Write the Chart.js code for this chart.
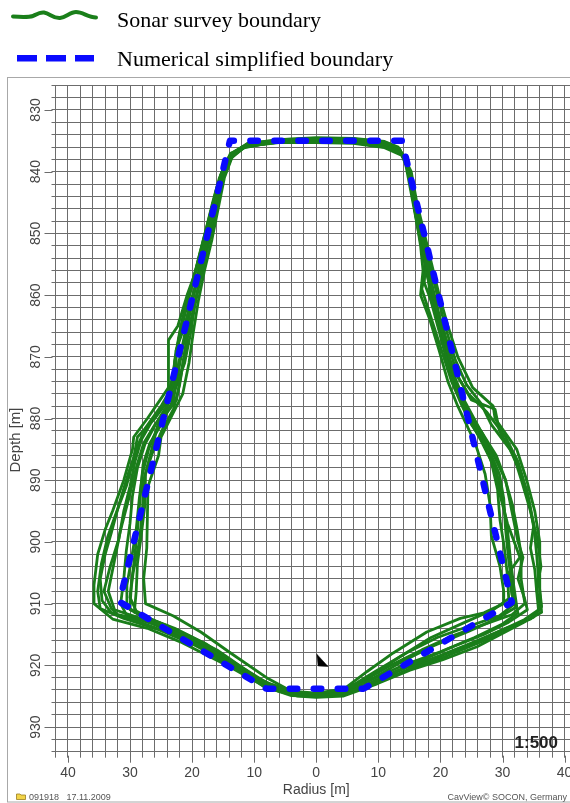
<!DOCTYPE html>
<html>
<head>
<meta charset="utf-8">
<title>Cavern sonar survey</title>
<script src="https://cdn.jsdelivr.net/npm/chart.js@4/dist/chart.umd.min.js"></script>
<style>
  html, body { margin: 0; padding: 0; background: #fff; overflow: hidden; width: 570px; height: 803px; }
  #frame { position: absolute; left: 0; top: 0; z-index: 0; }
  #plot { position: absolute; left: 0; top: 0; z-index: 1; }
  #notes { position: absolute; left: 0; top: 0; z-index: 2; pointer-events: none; }
</style>
</head>
<body>
<svg id="frame" width="570" height="803" xmlns="http://www.w3.org/2000/svg">
  <!-- frame around the plot window -->
  <rect x="7.5" y="77.5" width="580" height="724.5" fill="none" stroke="#a8a8a8" stroke-width="1"/>
</svg>
<canvas id="plot" width="590" height="803"></canvas>
<svg id="notes" width="570" height="803" xmlns="http://www.w3.org/2000/svg">
  <!-- legend -->
  <path d="M13,16.5 C20,17 28,17.5 33,16 C37,14 40,12 44,12.5 C50,13.5 53,18.5 60,18 C66,17.5 70,12 76,12 C83,12 88,17.5 96,17.5"
        fill="none" stroke="#1a7f1a" stroke-width="4" stroke-linecap="round"/>
  <text x="117" y="26.5" font-family="Liberation Serif, Times New Roman, serif" font-size="22" fill="#000">Sonar survey boundary</text>
  <rect x="17" y="55" width="20" height="6.5" fill="#0a0aff"/>
  <rect x="46" y="55" width="20" height="6.5" fill="#0a0aff"/>
  <rect x="75" y="55" width="19" height="6.5" fill="#0a0aff"/>
  <text x="117" y="65.7" font-family="Liberation Serif, Times New Roman, serif" font-size="22" fill="#000">Numerical simplified boundary</text>
  <!-- depth axis title -->
  <text transform="translate(19.5,440) rotate(-90)" text-anchor="middle" font-family="Liberation Sans, Arial, sans-serif" font-size="15" fill="#444">Depth [m]</text>
  <!-- scale note -->
  <text x="558" y="748" text-anchor="end" font-family="Liberation Sans, Arial, sans-serif" font-size="17" font-weight="bold" fill="#222">1:500</text>
  <!-- footer -->
  <path d="M16.5,794 h3.5 l1,1 h4.5 v4.5 h-9 z" fill="#f2d448" stroke="#9a7f20" stroke-width="0.8"/>
  <text x="29" y="799.5" font-family="Liberation Sans, Arial, sans-serif" font-size="9" fill="#555">091918</text>
  <text x="66.5" y="799.5" font-family="Liberation Sans, Arial, sans-serif" font-size="9" fill="#555">17.11.2009</text>
  <text x="567" y="799.5" text-anchor="end" font-family="Liberation Sans, Arial, sans-serif" font-size="9" fill="#555">CavView© SOCON, Germany</text>
</svg>
<script>
// Axis ticks (radius in m, depth in m)
const radiusTicks = [-40, -30, -20, -10, 0, 10, 20, 30, 40];
const radiusLabels = ['40', '30', '20', '10', '0', '10', '20', '30', '40'];
const depthTicks = [830, 840, 850, 860, 870, 880, 890, 900, 910, 920, 930];
const depthLabels = ['830', '840', '850', '860', '870', '880', '890', '900', '910', '920', '930'];

// Sonar survey contours, each a closed loop of [radius, depth]
const sonarTrace1 = [[0,834.6],[6,834.7],[11,835.2],[13.3,836.2],[14.5,838.5],[15.2,842],[16,847],[16.8,852],[17.2,856],[16.8,860],[18.3,864],[19.8,869],[21.2,874],[22.8,878],[25.6,884],[27.2,889],[28,894],[28.2,899],[29.6,904],[30.2,908],[30.2,910],[27,911.5],[23.2,912.4],[17.8,914.6],[12.4,918],[8.2,921],[4.5,923.8],[0,924.5],[-4,924.2],[-8,922],[-13.8,918],[-18.6,914.6],[-23,912],[-27.5,910],[-27.8,906],[-27.3,901],[-27.2,896],[-27.1,891],[-25.4,886],[-25,883],[-23.5,880],[-21.5,876],[-20.5,871],[-19.8,866],[-19,861],[-18,856],[-16.8,851],[-15.8,846],[-14.8,841],[-13.5,837.5],[-11,835.4],[-6,834.8],[0,834.6]];
const sonarTrace2 = [[0,835.2],[6,835.3],[11,836],[13.8,837],[15.3,840],[16.2,845],[17.4,850],[18.6,855],[19.8,860],[21.2,865],[22.8,870],[25.2,875],[28.5,878],[28.8,880],[32.3,885],[33.9,890],[35.2,895],[36,900],[36,905],[36,908],[36.3,911.4],[33.3,913.1],[31.2,914.2],[25.9,917],[20.4,919.1],[15.1,920.8],[9.8,923],[4.3,925],[0,925.2],[-3,925],[-7.9,923.7],[-13.8,920.3],[-21.9,916.2],[-27.2,914],[-32.8,912.5],[-35.8,910],[-35.8,907],[-35.2,902],[-34,898],[-32.8,895],[-31,890],[-29.6,885],[-29.4,883],[-27.2,880],[-23.8,875],[-23.8,870],[-23.8,867.3],[-22.3,865],[-20.8,860],[-19,855],[-17.5,850],[-16.2,845],[-15.4,840.5],[-13.8,837],[-11,835.8],[-6,835.2],[0,835.2]];
const sonarTrace3 = [[0,834.9],[6,835],[11,835.6],[13.6,836.8],[14.9,839.5],[15.7,844],[16.6,849],[17.8,854],[18.5,858],[19.5,863],[20.8,868],[22.2,873],[23.8,877],[26.5,882],[29,886],[30.5,890],[31.5,895],[32.5,900],[33.3,902.5],[32.5,906],[33.5,909],[34,911],[31,913],[27,915],[22,917],[16,919.6],[11,921.8],[6,924],[2,924.8],[-2,924.8],[-6,924],[-10,922],[-15,919.5],[-20,916],[-25,913.5],[-29.5,912],[-32.5,911],[-33.5,908],[-32.5,903],[-31.5,898],[-30.2,893],[-29,888],[-27.8,884],[-26,881],[-23,877.5],[-22.5,873],[-22.6,869],[-21.2,865],[-20.2,861],[-19,857],[-17.8,852],[-16.5,847],[-15.5,842],[-14.2,838],[-11.5,836],[-6,835.1],[0,834.9]];
const sonarTrace4 = [[0,834.7],[6,834.8],[11,835.3],[13.4,836.3],[14.6,839],[15.4,843.5],[16.4,849],[17.6,854],[18.2,857.5],[19.2,862],[20.6,867],[22,872],[24.5,876],[27.5,879],[30.5,883],[32.5,887],[34,892],[35,897],[35.5,902],[35.8,906],[36.3,910.5],[35,912.2],[32,913.5],[27,916],[21,918.5],[15.5,920.4],[10.5,922.5],[5.5,924.4],[1,924.9],[-3,924.8],[-7,923.8],[-11,921],[-16,917.5],[-21,915],[-26,912.8],[-29,911.2],[-30,909],[-29.5,905],[-28.5,900],[-28,895],[-27.8,890],[-26.5,885],[-25.5,881],[-22.5,877],[-21.8,873],[-21,868],[-20.6,864],[-19.5,859],[-18.2,854],[-17,849],[-16,844],[-15,840],[-13.6,837],[-11,835.4],[-6,834.9],[0,834.7]];
const sonarTrace5 = [[0,835],[6,835.1],[11,835.7],[13.7,836.9],[15.1,840],[15.9,844.5],[16.9,849.5],[18,854.5],[17,859],[18.6,864],[20.2,869],[21.8,874],[23.5,878],[25,881],[27.8,885],[29.5,889],[30.2,893],[30.5,898],[31,903],[31.5,907],[32,910],[29.5,912],[25,913.5],[19.5,915.5],[14.5,918],[9.5,921],[5,923.8],[1,924.6],[-3,924.6],[-7.5,923.2],[-12.5,920.6],[-18,917.4],[-23.5,914.8],[-29,912.8],[-33,911.5],[-34.5,909.5],[-34.8,906],[-34,902],[-33,898.5],[-31.8,894],[-30.3,889],[-28.8,884.5],[-27.5,881.5],[-25,878],[-23,874.5],[-22.8,870.5],[-22,866],[-21,862],[-19.8,857.5],[-18.5,852.5],[-17.2,847.5],[-16,842.5],[-14.8,839],[-12.5,836.3],[-7,835.2],[0,835]];
const sonarTrace6 = [[0,834.8],[6,834.9],[11,835.4],[13.5,836.6],[14.8,839.3],[15.5,843.5],[16.2,848],[17.2,853],[18,857],[18.5,861],[19.7,865.5],[21,870.5],[22.5,875],[24,879],[26.5,883.5],[28.5,887.5],[29.5,892],[30.8,897],[32.8,902.5],[31,905],[31.5,908.5],[32.5,911.5],[30,913.3],[25.5,915.5],[20,917.8],[14,920],[9,922.3],[4,924.3],[0,924.7],[-4.5,924.3],[-9,922.5],[-14.5,919],[-19.5,915.8],[-24.5,913.5],[-28.5,911.8],[-30.5,910.5],[-30.5,907],[-29.8,903],[-29,898],[-28.5,893],[-28,889],[-27,885],[-25.8,882],[-24.5,879],[-22.8,875.5],[-21.2,871],[-20.3,866.5],[-19.6,862],[-18.8,858],[-17.8,853.5],[-16.6,848.5],[-15.6,843.5],[-14.6,839.5],[-13,836.6],[-10,835.4],[-5,834.9],[0,834.8]];
const sonarTrace7 = [[0,835.1],[6,835.2],[11,835.9],[13.8,837.2],[15.2,840.5],[16.1,845.5],[17.1,850.5],[18.4,855.5],[19.6,860.5],[20.9,865.5],[22.4,870.5],[24.2,874.5],[26.5,877.5],[28.2,881],[31.2,885],[33,889],[34.2,893],[35,897.5],[34.5,901],[35.2,904.5],[35.5,908],[35.8,911],[33.5,912.6],[29.5,914.5],[24,916.8],[18.5,919],[13,920.9],[8,923.3],[3.5,924.8],[0,925],[-4,924.9],[-8.5,923.4],[-13,920.2],[-18.5,916.4],[-24,914],[-29,912.4],[-32,911.8],[-33,910.8],[-34.2,908],[-33.2,904],[-31.8,899.5],[-31,895],[-30,891],[-29.2,887],[-28.2,883.5],[-26.5,880.5],[-24,877],[-23,872.5],[-22.3,868],[-21.6,864],[-20.4,859.5],[-19.2,855],[-17.9,850],[-16.7,845],[-15.6,841],[-14,837.5],[-11.5,835.9],[-6,835.2],[0,835.1]];
const sonarTrace8 = [[0,834.7],[6,834.8],[11,835.4],[13.5,836.5],[14.7,839.2],[15.5,843.8],[16.4,848.5],[17.4,853.5],[18.3,858],[19.3,862.5],[20.5,867],[21.8,872],[23.2,876.5],[25.2,880.5],[27.5,884.5],[29,888.5],[30,893],[30.8,898],[31.3,903],[31.8,907],[32.3,910.5],[29.2,912.4],[24.5,914.5],[19,916.8],[14,919.3],[9.3,922],[4.8,924.2],[0,924.8],[-4.5,924.5],[-9,922.6],[-14,919.5],[-19.5,916],[-24,913.6],[-28,912],[-30,911],[-29.8,907],[-29.2,902],[-28.7,897],[-28.3,892],[-27.9,887.5],[-26.8,884],[-25,881],[-23.3,877.5],[-22.4,873.5],[-21.6,869],[-20.7,864.5],[-19.8,860],[-18.7,855],[-17.5,850],[-16.3,845],[-15.2,840.5],[-13.7,837.2],[-11.2,835.6],[-6,835],[0,834.7]];
const sonarTrace9 = [[0,835.3],[6,835.4],[11,836.1],[13.9,837.4],[15,840],[15.8,844],[16.7,849],[17.6,853],[17.4,858],[18.9,862],[20.3,866.5],[21.5,871.5],[22.8,875.5],[24.5,879.5],[26.8,883],[28.2,887],[29.2,891.5],[29.6,896.5],[30.3,901],[30.8,905.5],[31,909.2],[28.5,911],[24,913],[18.5,915.5],[13.5,918.6],[9,921.6],[5,923.9],[1,924.7],[-3.5,924.4],[-8,922.8],[-12.8,919.8],[-17.8,916.5],[-22.8,914],[-27,912.4],[-29.3,911.4],[-29,908],[-28.8,903.5],[-28.2,899],[-27.6,894],[-27.5,889],[-26.2,885],[-24.8,881.8],[-23,878.5],[-22,874.5],[-21.2,869.5],[-20.4,865],[-19.4,860.5],[-18.4,856],[-17.2,851],[-16.1,846],[-15.1,841.5],[-13.7,837.8],[-11.4,835.9],[-6,835.3],[0,835.3]];
const sonarTrace10 = [[0,834.5],[6,834.6],[11,835.1],[13.2,836],[14.4,838.8],[15.2,843],[16.1,847.8],[17,852.5],[17.9,857],[19,861.5],[20.2,866],[21.4,870.8],[22.6,875],[24.3,878.6],[26.7,882.3],[28.6,886],[30.4,889.8],[31.6,894],[32.4,898.2],[33,902],[33,906],[33.6,910],[31.5,911.8],[27.5,913.2],[22.5,915],[17,917.5],[12,920],[7.5,922.6],[3,924.3],[0,924.6],[-3,924.4],[-7.5,923],[-12,920.8],[-17,917.8],[-22,915.2],[-26.5,913.2],[-30.5,912],[-31.5,910],[-31,906],[-30.6,901.5],[-30,897],[-29.6,892.5],[-28.8,888],[-27.6,884.2],[-25.8,880.8],[-24,877.8],[-22.8,874],[-21.9,869.8],[-21,865.5],[-20,861],[-19,856.5],[-17.9,851.8],[-16.7,846.8],[-15.6,842],[-14.3,838.2],[-12,836],[-6,834.8],[0,834.5]];
const sonarTrace11 = [[0,835],[6,835.1],[11,835.8],[13.7,837],[15,839.8],[15.9,844.3],[16.9,849.3],[17.9,854.2],[18.8,859],[20,864],[21.5,869],[23,873.5],[25,877],[28.8,878.5],[29.5,882],[31.8,886],[33.2,890.5],[34.5,895],[35.6,899.5],[36.2,904],[35.5,907.5],[36,910.8],[34.5,912.5],[30.5,914],[25.5,916.3],[20,918.5],[14.8,920.2],[10,922.5],[5,924.5],[0,925],[-3.5,924.9],[-8,923.5],[-13.5,920],[-20,916.5],[-25.5,914.2],[-31,912.4],[-34.8,910.8],[-35.2,908],[-34.6,903.5],[-33.6,899.2],[-32.3,895.5],[-30.6,891],[-29.5,887],[-28.8,883],[-26,880],[-23.4,876.5],[-22.9,871.5],[-22.1,867],[-21,862.5],[-19.9,858],[-18.7,853],[-17.4,848],[-16.2,843.5],[-15.1,839.8],[-13.2,836.8],[-10.5,835.6],[-5,835.1],[0,835]];
const sonarTraces = [sonarTrace1, sonarTrace2, sonarTrace3, sonarTrace4, sonarTrace5, sonarTrace6,
                     sonarTrace7, sonarTrace8, sonarTrace9, sonarTrace10, sonarTrace11];

// Simplified polygon used by the numerical model, [radius, depth]
const simplifiedBoundary = [[0,835],[13.8,835],[31.5,909.8],[7.6,923.8],[-8,923.8],[-31.7,909.7],[-13.9,835],[0,835]];

// Probe position marker, [radius, depth]
const probeMarker = [[0.1,918.2],[0.3,920.1],[1.9,920.2],[0.1,918.2]];

const toXY = pts => pts.map(p => ({ x: p[0], y: p[1] }));

const SONAR_GREEN = '#1a7d1a';
const MODEL_BLUE = '#0a0aff';
const GRID = '#6c6c6c';

const datasets = [
  {
    label: 'Numerical simplified boundary',
    data: toXY(simplifiedBoundary),
    showLine: true,
    borderColor: MODEL_BLUE,
    borderWidth: 6.5,
    borderDash: [7.5, 16.5],
    borderDashOffset: 18,
    borderCapStyle: 'round',
    borderJoinStyle: 'round',
    pointRadius: 0,
    tension: 0,
    order: 0
  },
  {
    label: 'probe',
    data: toXY(probeMarker),
    showLine: true,
    borderColor: '#000',
    borderWidth: 0.5,
    backgroundColor: '#000',
    fill: 'shape',
    pointRadius: 0,
    order: 0
  }
];
sonarTraces.forEach((t, i) => {
  datasets.push({
    label: i === 0 ? 'Sonar survey boundary' : 'Sonar survey boundary ' + (i + 1),
    data: toXY(t),
    showLine: true,
    borderColor: SONAR_GREEN,
    borderWidth: 2.8,
    borderJoinStyle: 'round',
    pointRadius: 0,
    tension: 0,
    order: 1
  });
});

// Longer tick marks at the labelled values
const majorTicks = {
  id: 'majorTicks',
  afterDraw(chart) {
    const { ctx, chartArea, scales } = chart;
    ctx.save();
    ctx.strokeStyle = GRID;
    ctx.lineWidth = 1;
    ctx.beginPath();
    depthTicks.forEach(v => {
      const y = Math.round(scales.y.getPixelForValue(v)) + 0.5;
      ctx.moveTo(chartArea.left - 11, y);
      ctx.lineTo(chartArea.left - 3, y);
    });
    radiusTicks.forEach(v => {
      const x = Math.round(scales.x.getPixelForValue(v)) + 0.5;
      ctx.moveTo(x, chartArea.bottom + 4);
      ctx.lineTo(x, chartArea.bottom + 11);
    });
    ctx.stroke();
    ctx.restore();
  }
};

new Chart(document.getElementById('plot'), {
  type: 'scatter',
  data: { datasets },
  options: {
    responsive: false,
    animation: false,
    devicePixelRatio: 1,
    layout: { padding: { left: 0, right: 13, top: 85.3, bottom: 3.3 } },
    plugins: {
      legend: { display: false },
      tooltip: { enabled: false }
    },
    scales: {
      x: {
        type: 'linear',
        min: -42,
        max: 42,
        afterFit: s => { s.height = 48; },
        grid: { color: GRID, lineWidth: 1, tickLength: 6, tickColor: GRID },
        border: { color: GRID },
        ticks: {
          stepSize: 2,
          autoSkip: false,
          maxRotation: 0,
          padding: 7,
          color: '#444',
          font: { family: 'Liberation Sans, Arial, sans-serif', size: 14 },
          callback: v => {
            const i = radiusTicks.indexOf(v);
            return i >= 0 ? radiusLabels[i] : '';
          }
        },
        title: {
          display: true,
          text: 'Radius [m]',
          color: '#444',
          font: { family: 'Liberation Sans, Arial, sans-serif', size: 14 },
          padding: { top: 0, bottom: 1 }
        }
      },
      y: {
        type: 'linear',
        reverse: true,
        min: 826,
        max: 934,
        afterFit: s => { s.width = 55.5; },
        grid: { color: GRID, lineWidth: 1, tickLength: 4, tickColor: GRID },
        border: { color: GRID },
        ticks: {
          stepSize: 2,
          autoSkip: false,
          minRotation: 90,
          maxRotation: 90,
          crossAlign: 'center',
          padding: 3.3,
          color: '#444',
          font: { family: 'Liberation Sans, Arial, sans-serif', size: 14 },
          callback: v => {
            const i = depthTicks.indexOf(v);
            return i >= 0 ? depthLabels[i] : '';
          }
        }
      }
    }
  },
  plugins: [majorTicks]
});
</script>
</body>
</html>
